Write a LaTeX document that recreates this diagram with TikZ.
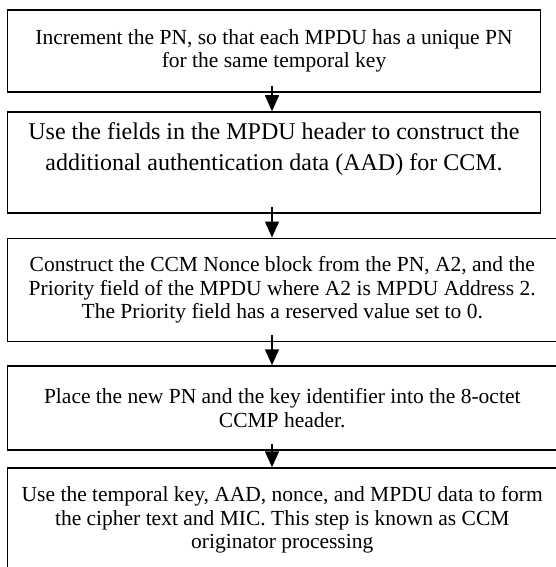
\documentclass[tikz,border=0pt]{standalone}
\usepackage{fontspec}
\setmainfont{Liberation Serif}
\usetikzlibrary{arrows.meta}

\begin{document}
\begin{tikzpicture}[x=1pt,y=-1pt,
    stepbox/.style={draw,line width=1.5pt,align=center,inner sep=0pt,
      font=\fontsize{21.5}{23.5}\selectfont},
    narrow/.style={minimum width=533pt},
    wide/.style={minimum width=549.5pt},
    flow/.style={line width=1.5pt,shorten <=-7pt,
      -{Triangle[width=14pt,length=16pt]}}]
  \useasboundingbox (0,0) rectangle (555,567);
  \coordinate (spine) at (272,0);

  \node[stepbox,narrow,minimum height=82pt] (inc) at (274,51)
    {Increment the PN, so that each MPDU has a unique PN\\for the same temporal key};
  \node[stepbox,narrow,minimum height=101pt,font=\fontsize{24}{31}\selectfont] (aad) at (274,162.5)
    {Use the fields in the MPDU header to construct the\\additional authentication data (AAD) for CCM.\\\mbox{}};
  \node[stepbox,wide,minimum height=103pt] (nonce) at (282.25,289.75)
    {Construct the CCM Nonce block from the PN, A2, and the\\Priority field of the MPDU where A2 is MPDU Address 2.\\The Priority field has a reserved value set to 0.};
  \node[stepbox,wide,minimum height=84pt] (hdr) at (282.25,408)
    {Place the new PN and the key identifier into the 8-octet\\CCMP header.};
  \node[stepbox,wide,minimum height=104pt] (ccm) at (282.25,520)
    {Use the temporal key, AAD, nonce, and MPDU data to form\\the cipher text and MIC. This step is known as CCM\\originator processing};

  \path[flow]
    (inc.south -| spine)   edge (aad.north -| spine)
    (aad.south -| spine)   edge (nonce.north -| spine)
    (nonce.south -| spine) edge (hdr.north -| spine)
    (hdr.south -| spine)   edge (ccm.north -| spine);
\end{tikzpicture}
\end{document}
